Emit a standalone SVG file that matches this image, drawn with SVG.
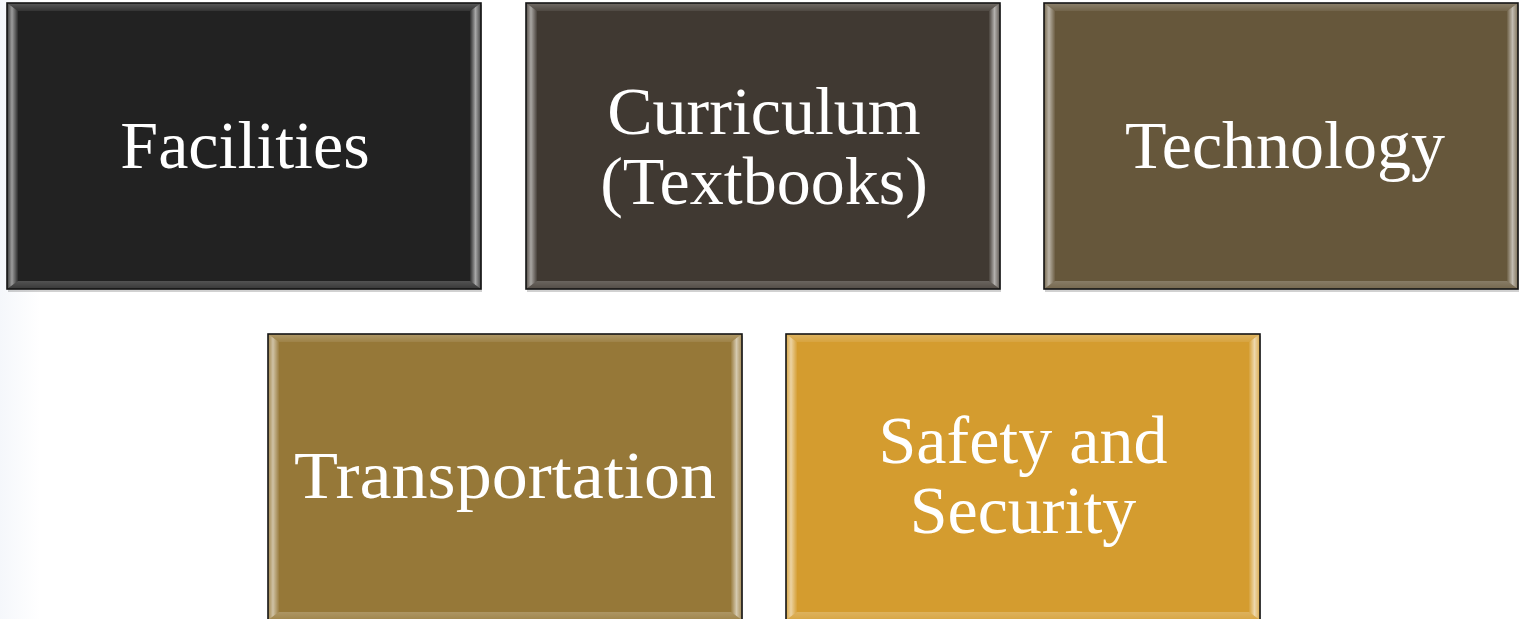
<svg xmlns="http://www.w3.org/2000/svg" width="1520" height="619" viewBox="0 0 1520 619">
  <defs>
    <linearGradient id="bg" x1="0" y1="0" x2="1" y2="0">
      <stop offset="0" stop-color="#f5f7fb"/>
      <stop offset="1" stop-color="#ffffff"/>
    </linearGradient>
    <linearGradient id="gl" x1="0" y1="0" x2="1" y2="0">
      <stop offset="0" stop-color="#fff" stop-opacity="0.1"/>
      <stop offset="0.45" stop-color="#fff" stop-opacity="0.55"/>
      <stop offset="1" stop-color="#fff" stop-opacity="0.05"/>
    </linearGradient>
    <linearGradient id="gr" x1="0" y1="0" x2="1" y2="0">
      <stop offset="0" stop-color="#fff" stop-opacity="0.05"/>
      <stop offset="0.5" stop-color="#fff" stop-opacity="0.6"/>
      <stop offset="1" stop-color="#fff" stop-opacity="0.15"/>
    </linearGradient>
    <linearGradient id="gt" x1="0" y1="0" x2="0" y2="1">
      <stop offset="0" stop-color="#fff" stop-opacity="0.25"/>
      <stop offset="1" stop-color="#fff" stop-opacity="0.08"/>
    </linearGradient>
    <linearGradient id="gb" x1="0" y1="0" x2="0" y2="1">
      <stop offset="0" stop-color="#fff" stop-opacity="0.22"/>
      <stop offset="1" stop-color="#fff" stop-opacity="0.1"/>
    </linearGradient>
    <style>
      .edge { fill: none; stroke: #141414; stroke-width: 1.6; }
      .shadow { fill: #000; opacity: 0.18; }
      .lbl { font-family: "Liberation Serif", "Times New Roman", serif; font-size: 68px; fill: #ffffff; text-anchor: middle; }
    </style>
  </defs>

  <rect x="0" y="0" width="40" height="619" fill="url(#bg)"/>

  <g id="connectors"></g>

  <g id="node-facilities">
    <rect class="shadow" x="8" y="5" width="474" height="287"/>
    <rect x="7" y="3" width="474" height="286" fill="#222222"/>
    <polygon points="7,3 481,3 470,11 18,11" fill="url(#gt)"/>
    <polygon points="7,3 18,11 18,281 7,289" fill="url(#gl)"/>
    <polygon points="481,3 481,289 470,281 470,11" fill="url(#gr)"/>
    <polygon points="7,289 18,281 470,281 481,289" fill="url(#gb)"/>
    <rect class="edge" x="7" y="3" width="474" height="286"/>
    <text class="lbl" x="245" y="168">Facilities</text>
  </g>

  <g id="node-curriculum">
    <rect class="shadow" x="527" y="5" width="474" height="287"/>
    <rect x="526" y="3" width="474" height="286" fill="#403932"/>
    <polygon points="526,3 1000,3 989,11 537,11" fill="url(#gt)"/>
    <polygon points="526,3 537,11 537,281 526,289" fill="url(#gl)"/>
    <polygon points="1000,3 1000,289 989,281 989,11" fill="url(#gr)"/>
    <polygon points="526,289 537,281 989,281 1000,289" fill="url(#gb)"/>
    <rect class="edge" x="526" y="3" width="474" height="286"/>
    <text class="lbl" x="764" y="134">Curriculum</text>
    <text class="lbl" x="764" y="204">(Textbooks)</text>
  </g>

  <g id="node-technology">
    <rect class="shadow" x="1045" y="5" width="474" height="287"/>
    <rect x="1044" y="3" width="474" height="286" fill="#66573b"/>
    <polygon points="1044,3 1518,3 1507,11 1055,11" fill="url(#gt)"/>
    <polygon points="1044,3 1055,11 1055,281 1044,289" fill="url(#gl)"/>
    <polygon points="1518,3 1518,289 1507,281 1507,11" fill="url(#gr)"/>
    <polygon points="1044,289 1055,281 1507,281 1518,289" fill="url(#gb)"/>
    <rect class="edge" x="1044" y="3" width="474" height="286"/>
    <text class="lbl" x="1285" y="168">Technology</text>
  </g>

  <g id="node-transportation">
    <rect class="shadow" x="269" y="336" width="474" height="287"/>
    <rect x="268" y="334" width="474" height="286" fill="#967838"/>
    <polygon points="268,334 742,334 731,342 279,342" fill="url(#gt)"/>
    <polygon points="268,334 279,342 279,612 268,620" fill="url(#gl)"/>
    <polygon points="742,334 742,620 731,612 731,342" fill="url(#gr)"/>
    <polygon points="268,620 279,612 731,612 742,620" fill="url(#gb)"/>
    <rect class="edge" x="268" y="334" width="474" height="286"/>
    <text class="lbl" x="505" y="498" textLength="422" lengthAdjust="spacingAndGlyphs">Transportation</text>
  </g>

  <g id="node-safety">
    <rect class="shadow" x="787" y="336" width="474" height="287"/>
    <rect x="786" y="334" width="474" height="286" fill="#d49c2f"/>
    <polygon points="786,334 1260,334 1249,342 797,342" fill="url(#gt)"/>
    <polygon points="786,334 797,342 797,612 786,620" fill="url(#gl)"/>
    <polygon points="1260,334 1260,620 1249,612 1249,342" fill="url(#gr)"/>
    <polygon points="786,620 797,612 1249,612 1260,620" fill="url(#gb)"/>
    <rect class="edge" x="786" y="334" width="474" height="286"/>
    <text class="lbl" x="1023" y="463">Safety and</text>
    <text class="lbl" x="1023" y="533">Security</text>
  </g>
</svg>
